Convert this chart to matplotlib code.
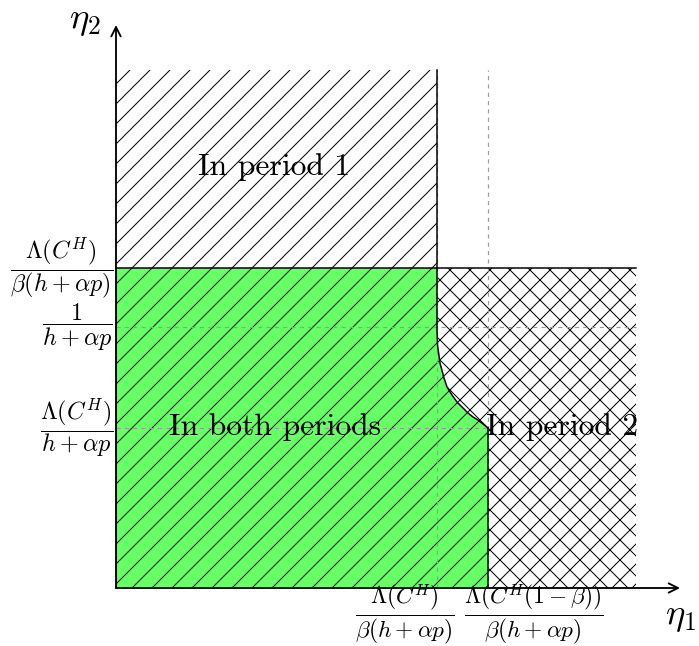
import matplotlib
matplotlib.use('Agg')
import matplotlib.pyplot as plt
from matplotlib.patches import Polygon, Rectangle

plt.rcParams['mathtext.fontset'] = 'cm'
plt.rcParams['hatch.linewidth'] = 0.6
plt.rcParams['lines.scale_dashes'] = False

# positions of the symbolic ticks (arbitrary units)
x_ticks = [3.21, 3.72]
x_labels = [r'$\dfrac{\Lambda(C^H)}{\beta(h+\alpha p)}$',
            r'$\dfrac{\Lambda(C^H(1-\beta))}{\beta(h+\alpha p)}$']
y_ticks = [3.20, 2.61, 1.60]
y_labels = [r'$\dfrac{\Lambda(C^H)}{\beta(h+\alpha p)}$',
            r'$\dfrac{1}{h+\alpha p}$',
            r'$\dfrac{\Lambda(C^H)}{h+\alpha p}$']
x_end = 5.20
y_top = 5.18

# boundary of the "both periods" region
curve_x = [3.21, 3.21, 3.215, 3.24, 3.28, 3.31, 3.36, 3.41, 3.47, 3.52, 3.57, 3.62, 3.67, 3.72]
curve_y = [3.20, 2.58, 2.43, 2.25, 2.10, 2.01, 1.93, 1.86, 1.80, 1.75, 1.71, 1.68, 1.64, 1.60]

region_names = ['In period 1', 'In both periods', 'In period 2']
region_pos = [(1.58, 4.21), (1.59, 1.61), (4.46, 1.61)]

dpi = 120
fig = plt.figure(figsize=(699 / dpi, 646 / dpi), dpi=dpi)
ax = fig.add_axes([0, 0, 1, 1])
ax.set_xlim(-1.16, 5.83)
ax.set_ylim(-0.58, 5.88)
ax.axis('off')

green = '#66ff66'
gray = '#9a9a9a'

# period 1 only
ax.add_patch(Rectangle((0, y_ticks[0]), x_ticks[0], y_top - y_ticks[0],
                       facecolor='white', edgecolor='black', hatch='//', linewidth=0))
# period 2 (cross hatched)
ax.add_patch(Rectangle((x_ticks[0], 0), x_end - x_ticks[0], y_ticks[0],
                       facecolor='white', edgecolor='black', hatch='xx', linewidth=0))
# both periods
poly = [(0, 0), (0, y_ticks[0])] + list(zip(curve_x, curve_y)) + [(x_ticks[1], 0)]
ax.add_patch(Polygon(poly, closed=True, facecolor=green, edgecolor='black',
                     hatch='//', linewidth=0))

# dashed helper lines
dash = dict(color=gray, linewidth=0.7, linestyle=(0, (2.5, 2.5)))
ax.plot([0, x_end], [y_ticks[1], y_ticks[1]], **dash)
ax.plot([0, x_ticks[1]], [y_ticks[2], y_ticks[2]], **dash)
ax.plot([x_ticks[0], x_ticks[0]], [0, y_top], **dash)
ax.plot([x_ticks[1], x_ticks[1]], [0, y_top], **dash)

# region borders
lw = 0.9
ax.plot([0, x_end], [y_ticks[0], y_ticks[0]], color='black', linewidth=lw)
ax.plot([x_ticks[0], x_ticks[0]], [y_ticks[0], y_top], color='black', linewidth=lw)
ax.plot(curve_x, curve_y, color='black', linewidth=lw)
ax.plot([x_ticks[1], x_ticks[1]], [0, y_ticks[2]], color='black', linewidth=lw)

# axes with arrows
arrow = dict(arrowstyle='->', color='black', linewidth=1.1, shrinkA=0, shrinkB=0,
             mutation_scale=14)
ax.annotate('', xy=(5.64, 0), xytext=(0, 0), arrowprops=arrow)
ax.annotate('', xy=(0, 5.63), xytext=(0, 0), arrowprops=arrow)
ax.text(5.65, -0.27, r'$\eta_1$', fontsize=22, ha='center', va='center')
ax.text(-0.31, 5.69, r'$\eta_2$', fontsize=22, ha='center', va='center')

# tick labels
for y, lab in zip(y_ticks, y_labels):
    ax.text(-0.03, y, lab, fontsize=14.5, ha='right', va='center')
ax.text(2.89, -0.26, x_labels[0], fontsize=14, ha='center', va='center')
ax.text(4.18, -0.26, x_labels[1], fontsize=14, ha='center', va='center')

for name, (tx, ty) in zip(region_names, region_pos):
    ax.text(tx, ty, name, fontsize=19, family='cmr10', ha='center', va='center')

fig.savefig('out.png', dpi=dpi)
